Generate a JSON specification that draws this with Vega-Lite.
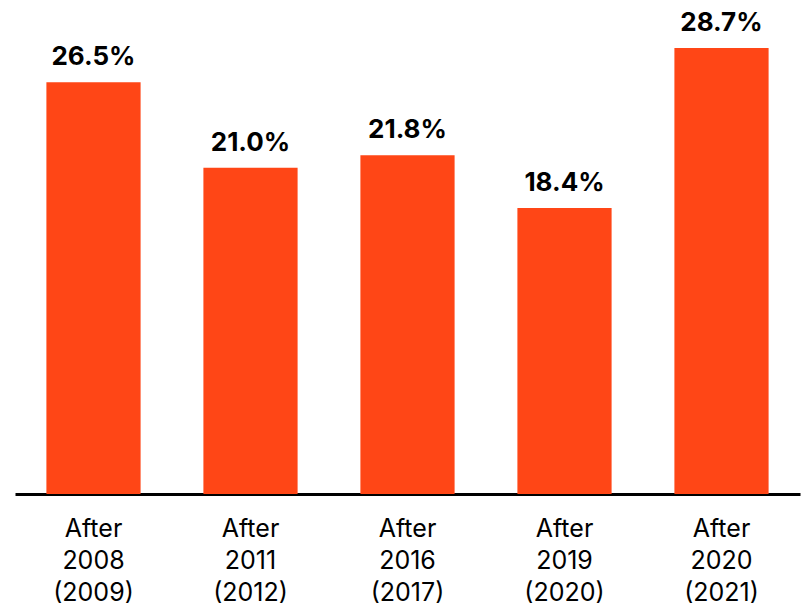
{
  "$schema": "https://vega.github.io/schema/vega-lite/v6.json",
  "width": 785,
  "height": 446,
  "autosize": "none",
  "padding": {"left": 15, "top": 48, "right": 4, "bottom": 112},
  "background": "white",
  "config": {"view": {"stroke": null}, "font": "Inter"},
  "data": {"values": [
    {"period": "After 2008 (2009)", "value": 0.265},
    {"period": "After 2011 (2012)", "value": 0.210},
    {"period": "After 2016 (2017)", "value": 0.218},
    {"period": "After 2019 (2020)", "value": 0.184},
    {"period": "After 2020 (2021)", "value": 0.287}
  ]},
  "encoding": {
    "x": {"field": "period", "type": "nominal", "sort": null,
      "scale": {"paddingInner": 0.4, "paddingOuter": 0.2},
      "axis": {"title": null, "labelAngle": 0, "ticks": false, "domainColor": "black", "domainWidth": 3,
        "labelExpr": "split(datum.label, ' ')", "labelFontSize": 25, "labelLineHeight": 32, "labelColor": "black",
        "labelPadding": 22, "labelFont": "Inter"}},
    "y": {"field": "value", "type": "quantitative", "scale": {"domain": [0, 0.287], "nice": false},
      "axis": null}
  },
  "layer": [
    {"mark": {"type": "bar", "color": "#FF4616"}},
    {"mark": {"type": "text", "baseline": "alphabetic", "dy": -17, "fontSize": 26, "fontWeight": "bold", "color": "black", "font": "Inter"},
      "encoding": {"text": {"field": "value", "type": "quantitative", "format": ".1%"}}}
  ]
}
